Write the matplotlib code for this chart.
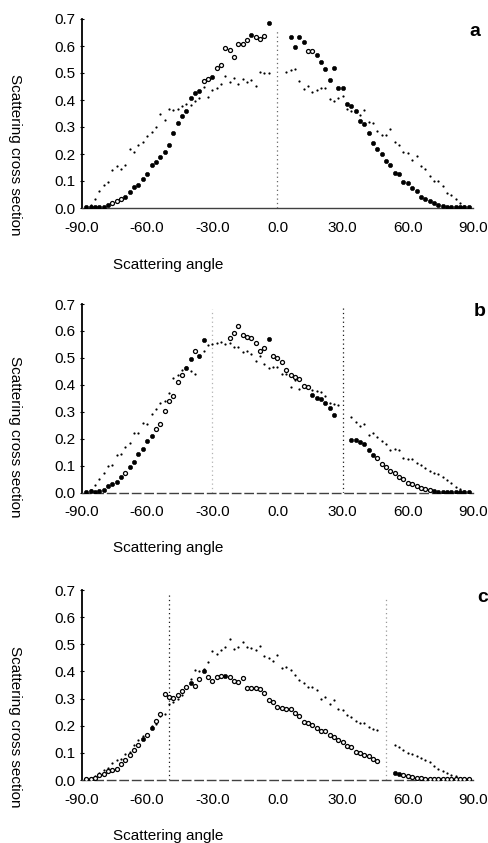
import numpy as np
import matplotlib
matplotlib.use("Agg")
import matplotlib.pyplot as plt

plt.rcParams['font.family'] = ['Liberation Sans', 'DejaVu Sans']

# ---- panel a ----
a_big_ang = np.r_[np.arange(-88, -3, 2), np.arange(6, 89, 2)]
a_big = [0.003, 0.004, 0.003, 0.004, 0.005, 0.01, 0.02, 0.027, 0.032, 0.04,
         0.06, 0.077, 0.086, 0.109, 0.126, 0.16, 0.172, 0.19, 0.207, 0.234,
         0.277, 0.315, 0.34, 0.359, 0.406, 0.426, 0.433, 0.471, 0.477, 0.486,
         0.517, 0.528, 0.591, 0.585, 0.558, 0.607, 0.607, 0.622, 0.641, 0.634,
         0.627, 0.638, 0.684,
         0.634, 0.597, 0.634, 0.616, 0.58, 0.58, 0.567, 0.54, 0.514, 0.475,
         0.519, 0.443, 0.443, 0.386, 0.379, 0.358, 0.322, 0.31, 0.279, 0.241,
         0.219, 0.199, 0.173, 0.158, 0.128, 0.125, 0.096, 0.091, 0.073, 0.063,
         0.04, 0.032, 0.025, 0.017, 0.01, 0.006, 0.003, 0.002, 0.002, 0.002,
         0.003, 0.002]
a_small_ang = np.r_[np.arange(-88, -3, 2), np.arange(4, 89, 2)]
a_small = [0.004, 0.012, 0.033, 0.064, 0.086, 0.096, 0.141, 0.157, 0.143, 0.159,
           0.22, 0.206, 0.235, 0.243, 0.268, 0.281, 0.299, 0.348, 0.327, 0.365,
           0.363, 0.368, 0.377, 0.385, 0.382, 0.395, 0.406, 0.447, 0.41, 0.436,
           0.443, 0.459, 0.489, 0.465, 0.483, 0.459, 0.479, 0.465, 0.475, 0.451,
           0.505, 0.499, 0.499,
           0.505, 0.511, 0.516, 0.471, 0.44, 0.451, 0.43, 0.437, 0.446, 0.446,
           0.403, 0.396, 0.406, 0.414, 0.365, 0.36, 0.358, 0.345, 0.363, 0.32,
           0.314, 0.286, 0.269, 0.271, 0.293, 0.244, 0.234, 0.207, 0.202, 0.178,
           0.193, 0.157, 0.143, 0.119, 0.099, 0.099, 0.081, 0.057, 0.047, 0.032,
           0.017, 0.006, 0.003]
a_open = [-76, -74, -72, -34, -32, -28, -26, -24, -22, -20, -18, -16, -14,
          -10, -8, -6, 14, 16]
a_vlines = [(0, 0.66, '0.4')]

# ---- panel b ----
b_big_ang = np.r_[np.arange(-88, -33, 2), np.arange(-22, 27, 2), np.arange(34, 89, 2)]
b_big = [0.004, 0.005, 0.004, 0.006, 0.01, 0.025, 0.032, 0.038, 0.058, 0.072,
         0.095, 0.115, 0.142, 0.163, 0.193, 0.209, 0.237, 0.256, 0.302, 0.341,
         0.359, 0.409, 0.438, 0.461, 0.496, 0.526, 0.508, 0.565,
         0.575, 0.594, 0.618, 0.585, 0.579, 0.575, 0.554, 0.527, 0.537, 0.569,
         0.507, 0.50, 0.485, 0.455, 0.437, 0.43, 0.422, 0.396, 0.391, 0.362,
         0.352, 0.346, 0.334, 0.315, 0.288,
         0.195, 0.195, 0.189, 0.179, 0.158, 0.139, 0.128, 0.105, 0.096, 0.082,
         0.072, 0.059, 0.05, 0.037, 0.032, 0.026, 0.019, 0.014, 0.009, 0.006,
         0.004, 0.004, 0.003, 0.003, 0.003, 0.003, 0.003, 0.003]
b_small_ang = np.r_[np.arange(-88, 29, 2), np.arange(34, 89, 2)]
b_small = [0.003, 0.01, 0.027, 0.05, 0.072, 0.099, 0.101, 0.14, 0.143, 0.17,
           0.186, 0.22, 0.223, 0.26, 0.255, 0.292, 0.309, 0.334, 0.341, 0.371,
           0.424, 0.437, 0.455, 0.465, 0.45, 0.44, 0.502, 0.525, 0.548, 0.552,
           0.556, 0.56, 0.552, 0.556, 0.542, 0.539, 0.523, 0.527, 0.515, 0.49,
           0.508, 0.477, 0.464, 0.465, 0.467, 0.441, 0.44, 0.391, 0.418, 0.383,
           0.40, 0.39, 0.38, 0.378, 0.373, 0.36, 0.332, 0.328, 0.325,
           0.282, 0.261, 0.247, 0.255, 0.214, 0.22, 0.205, 0.19, 0.18, 0.158,
           0.163, 0.158, 0.128, 0.124, 0.124, 0.109, 0.101, 0.09, 0.082, 0.074,
           0.068, 0.06, 0.048, 0.035, 0.02, 0.012, 0.005, 0.003]
b_open = [-70, -56, -54, -52, -50, -48, -46, -44, -38, -22, -20, -18, -16,
          -14, -12, -10, -8, -6, -2, 0, 2, 4, 6, 8, 10, 12, 14,
          46, 48, 50, 52, 54, 56, 58, 60, 62, 64, 66, 68, 70]
b_vlines = [(-30, 0.68, '0.7'), (30, 0.69, '0.1')]

# ---- panel c ----
c_big_ang = np.r_[np.arange(-88, 47, 2), np.arange(54, 89, 2)]
c_big = [0.003, 0.004, 0.008, 0.017, 0.021, 0.032, 0.036, 0.042, 0.06, 0.075,
         0.091, 0.109, 0.128, 0.152, 0.165, 0.193, 0.216, 0.242, 0.318, 0.306,
         0.303, 0.313, 0.327, 0.341, 0.356, 0.348, 0.372, 0.401, 0.378, 0.363,
         0.38, 0.382, 0.385, 0.378, 0.366, 0.362, 0.375, 0.34, 0.339, 0.338,
         0.337, 0.32, 0.295, 0.289, 0.27, 0.264, 0.262, 0.263, 0.248, 0.236,
         0.215, 0.21, 0.202, 0.19, 0.18, 0.18, 0.166, 0.158, 0.147, 0.139,
         0.127, 0.12, 0.103, 0.1, 0.091, 0.087, 0.076, 0.07,
         0.027, 0.023, 0.019, 0.014, 0.011, 0.009, 0.007, 0.005, 0.004, 0.003,
         0.003, 0.002, 0.002, 0.002, 0.002, 0.002, 0.002, 0.002]
c_small_ang = np.r_[np.arange(-88, 47, 2), np.arange(54, 89, 2)]
c_small = [0.003, 0.008, 0.015, 0.024, 0.037, 0.045, 0.062, 0.074, 0.078, 0.095,
           0.105, 0.13, 0.147, 0.163, 0.17, 0.2, 0.205, 0.235, 0.245, 0.28,
           0.288, 0.3, 0.314, 0.345, 0.372, 0.405, 0.4, 0.41, 0.436, 0.475,
           0.464, 0.48, 0.49, 0.518, 0.483, 0.49, 0.509, 0.49, 0.485, 0.48,
           0.494, 0.458, 0.449, 0.44, 0.46, 0.414, 0.416, 0.404, 0.388, 0.367,
           0.357, 0.342, 0.342, 0.33, 0.297, 0.306, 0.281, 0.294, 0.263, 0.258,
           0.241, 0.232, 0.216, 0.211, 0.211, 0.194, 0.189, 0.185,
           0.128, 0.12, 0.109, 0.1, 0.095, 0.087, 0.081, 0.074, 0.066, 0.05,
           0.042, 0.034, 0.027, 0.02, 0.015, 0.009, 0.005, 0.003]
c_filled = [-62, -58, -40, -34, -24, 54, 56]
c_open = [x for x in c_big_ang if x not in c_filled]
c_vlines = [(-50, 0.68, '0.1'), (50, 0.67, '0.6')]

xticks = [-90, -60, -30, 0, 30, 60, 90]
yticks = [0.0, 0.1, 0.2, 0.3, 0.4, 0.5, 0.6, 0.7]

panels = [
    ("a", a_big_ang, a_big, a_small_ang, a_small, a_open, a_vlines, (19, 208), 155, 265, (475, 32), 'solid'),
    ("b", b_big_ang, b_big, b_small_ang, b_small, b_open, b_vlines, (304, 492.7), 437, 548, (480, 312), (0, (6, 3))),
    ("c", c_big_ang, c_big, c_small_ang, c_small, c_open, c_vlines, (590, 780), 727, 836, (483, 597), (0, (6, 3))),
]

W, H = 489, 843
fig = plt.figure(figsize=(W / 100, H / 100), dpi=100)

for name, bx, by, sx, sy, opn, vlines, (top, bot), ylab_y, xlab_y, (lx, ly), bstyle in panels:
    ax = fig.add_axes([82 / W, 1 - bot / H, (473 - 82) / W, (bot - top) / H])
    bx = np.asarray(bx)
    by = np.asarray(by)
    is_open = np.isin(bx, opn)

    for xv, ytop, col in vlines:
        ax.plot([xv, xv], [0, ytop], color=col, lw=0.9, ls=(0, (1, 2.5)), zorder=1)

    ax.plot(sx, sy, ls='none', marker='o', ms=1.6, mfc='black', mec='black', mew=0, zorder=2)
    ax.plot(bx[~is_open], by[~is_open], ls='none', marker='o', ms=3.1,
            mfc='black', mec='black', mew=0.4, zorder=3)
    ax.plot(bx[is_open], by[is_open], ls='none', marker='o', ms=2.9,
            mfc='white', mec='black', mew=0.9, zorder=3)

    ax.set_xlim(-90, 90)
    ax.set_ylim(0, 0.7)
    ax.set_xticks(xticks)
    ax.set_xticklabels(["%.1f" % t for t in xticks])
    ax.set_yticks(yticks)
    ax.set_yticklabels(["%.1f" % t for t in yticks])
    ax.tick_params(axis='x', length=0, pad=9, labelsize=11)
    ax.tick_params(axis='y', length=3, width=0.8, direction='inout', pad=3, labelsize=11)

    for s in ['top', 'right']:
        ax.spines[s].set_visible(False)
    ax.spines['left'].set_linewidth(1.3)
    ax.spines['bottom'].set_linewidth(1.0)
    ax.spines['bottom'].set_color('0.25')
    ax.spines['bottom'].set_linestyle(bstyle)
    ax.patch.set_alpha(0)

    fig.text(15 / W, 1 - ylab_y / H, "Scattering cross section", rotation=270,
             ha='center', va='center', fontsize=11)
    fig.text(168 / W, 1 - xlab_y / H, "Scattering angle", ha='center', va='center', fontsize=11)
    fig.text(lx / W, 1 - ly / H, name, ha='center', va='center', fontsize=14, fontweight='bold')

fig.savefig("out.png", dpi=100)
